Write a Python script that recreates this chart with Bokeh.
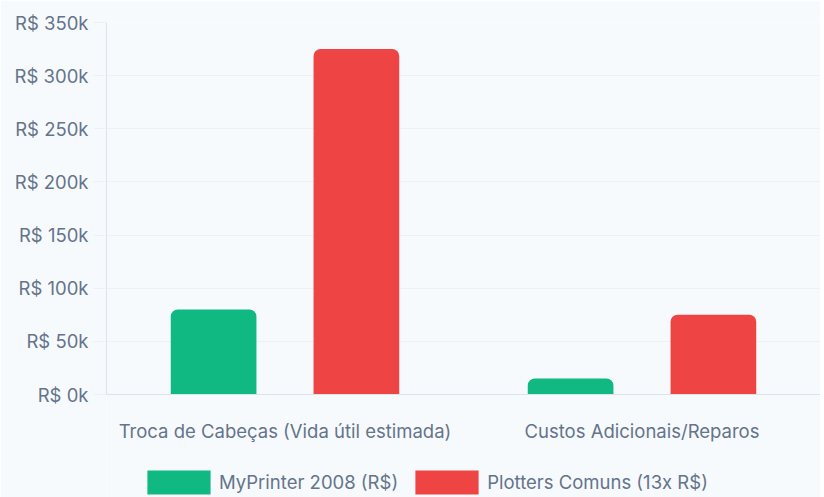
from bokeh.plotting import figure
from bokeh.models import FactorRange, FixedTicker, Legend, LegendItem, ColumnDataSource, Range1d, CategoricalAxis
from bokeh.transform import dodge
from bokeh.embed import file_html
from bokeh.resources import INLINE

categories = ["Troca de Cabeças (Vida útil estimada)", "Custos Adicionais/Reparos"]
series_names = ["MyPrinter 2008 (R$)", "Plotters Comuns (13x R$)"]
myprinter = [80000, 15000]
plotters = [325000, 75000]
tick_values = [0, 50000, 100000, 150000, 200000, 250000, 300000, 350000]
tick_labels = ["R$ 0k", "R$ 50k", "R$ 100k", "R$ 150k", "R$ 200k", "R$ 250k", "R$ 300k", "R$ 350k"]

BG = "#f7fafc"
GRID = "#edf1f5"
AXIS = "#dde3ea"
TEXT = "#64748b"
GREEN = "#10b981"
RED = "#ef4444"
FONT = "Inter"
FS = "18.5px"

# layout geometry (pixels)
H, TOP, ZERO_Y = 497, 22, 394
ymax = tick_values[-1]
ymin = -(H - ZERO_Y) * ymax / (ZERO_Y - TOP)

src = ColumnDataSource(dict(cat=categories, a=myprinter, b=plotters))

p = figure(x_range=FactorRange(*categories), y_range=Range1d(ymin, ymax),
           width=820, height=H, output_backend="svg", toolbar_location=None,
           x_axis_location=None,
           min_border_left=106, min_border_right=0, min_border_top=TOP, min_border_bottom=0,
           background_fill_color=BG, border_fill_color=BG, outline_line_color=None)

r1 = p.vbar(x=dodge("cat", -0.2, range=p.x_range), top="a", width=0.24, source=src,
            fill_color=GREEN, line_color=None, border_radius=(7, 7, 0, 0))
r2 = p.vbar(x=dodge("cat", 0.2, range=p.x_range), top="b", width=0.24, source=src,
            fill_color=RED, line_color=None, border_radius=(7, 7, 0, 0))

xaxis = CategoricalAxis(fixed_location=0)
xaxis.major_tick_line_color = None
xaxis.minor_tick_line_color = None
xaxis.axis_line_color = AXIS
xaxis.major_label_standoff = 19
xaxis.major_label_text_font = FONT
xaxis.major_label_text_font_size = FS
xaxis.major_label_text_color = TEXT
p.add_layout(xaxis, "below")

p.yaxis.ticker = FixedTicker(ticks=tick_values)
p.yaxis.bounds = (0, ymax)
p.yaxis.major_label_overrides = {v: l for v, l in zip(tick_values, tick_labels)}
p.yaxis.major_tick_out = 13
p.yaxis.major_tick_in = 0
p.yaxis.minor_tick_line_color = None
p.yaxis.major_tick_line_color = GRID
p.yaxis.axis_line_color = AXIS
p.yaxis.major_label_standoff = 5
p.yaxis.major_label_text_font = FONT
p.yaxis.major_label_text_font_size = FS
p.yaxis.major_label_text_color = TEXT

p.xgrid.grid_line_color = None
p.ygrid.grid_line_color = GRID
p.ygrid.grid_line_width = 1

legend = Legend(items=[LegendItem(label=series_names[0], renderers=[r1]),
                       LegendItem(label=series_names[1], renderers=[r2])],
                orientation="horizontal", location=(33, 0),
                glyph_width=79, glyph_height=30, label_standoff=1, spacing=9,
                padding=0, margin=0, border_line_color=None, background_fill_alpha=0,
                label_text_font=FONT, label_text_font_size=FS, label_text_color=TEXT)
p.add_layout(legend, "center")

open("out.html", "w").write(file_html(p, INLINE))
